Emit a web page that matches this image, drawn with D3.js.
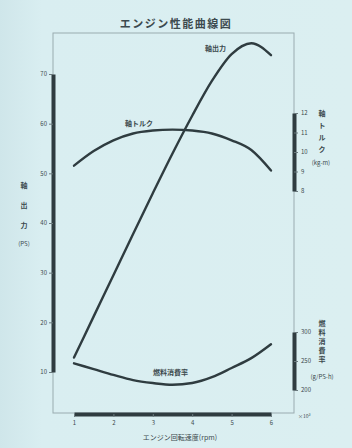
<!DOCTYPE html>
<html>
<head>
<meta charset="utf-8">
<script src="https://cdn.jsdelivr.net/npm/d3@7"></script>
<style>
  html, body { margin: 0; padding: 0; }
  body { width: 352px; height: 448px; overflow: hidden; background: #d8edf0; }
  svg text { font-family: "Noto Sans CJK JP", "Noto Sans", sans-serif; fill: #3c4a4e; }
</style>
</head>
<body>
<div id="chart"></div>
<script>
// engine speed (x1000 rpm)
const rpm = [1, 1.5, 2, 2.5, 3, 3.5, 4, 4.5, 5, 5.5, 6];
// shaft power (PS)
const power = [12.9, 21.2, 29.5, 37.8, 46.0, 54.0, 61.6, 68.6, 74.0, 76.2, 73.8];
// shaft torque (kg-m)
const torque = [9.3, 10.05, 10.6, 10.95, 11.1, 11.15, 11.1, 10.95, 10.6, 10.1, 9.05];
// fuel consumption rate (g/PS-h)
const fuel = [246, 236, 226, 217, 212, 209, 212, 222, 238, 255, 279];

const xTicks = [1, 2, 3, 4, 5, 6];
const powerTicks = [10, 20, 30, 40, 50, 60, 70];
const torqueTicks = [8, 9, 10, 11, 12];
const fuelTicks = [200, 250, 300];

const W = 352, H = 448;
const ink = "#2f3c40";

const svg = d3.select("#chart").append("svg")
    .attr("width", W)
    .attr("height", H);

// background wash
const grad = svg.append("defs").append("linearGradient")
    .attr("id", "bg").attr("x1", 0).attr("x2", 1).attr("y1", 0).attr("y2", 0);
grad.append("stop").attr("offset", "0%").attr("stop-color", "#cfe6ea");
grad.append("stop").attr("offset", "12%").attr("stop-color", "#d9eef1");
grad.append("stop").attr("offset", "100%").attr("stop-color", "#dbeff1");
svg.append("rect").attr("width", W).attr("height", H).attr("fill", "url(#bg)");

// scales
const x = d3.scaleLinear().domain([1, 6]).range([74, 271]);
const yP = d3.scaleLinear().domain([10, 70]).range([372, 74]);
const yT = d3.scaleLinear().domain([8, 12]).range([191, 113]);
const yF = d3.scaleLinear().domain([200, 300]).range([390, 332]);

// frame
svg.append("rect")
    .attr("x", 53).attr("y", 33)
    .attr("width", 241).attr("height", 380)
    .attr("fill", "none")
    .attr("stroke", "#9aabb0")
    .attr("stroke-width", 1);

// title
svg.append("text")
    .attr("x", 176).attr("y", 28)
    .attr("text-anchor", "middle")
    .style("font-size", "11px")
    .style("font-weight", "bold")
    .style("letter-spacing", "1.5px")
    .text("エンジン性能曲線図");

function styleAxis(g) {
    g.select(".domain").attr("stroke", ink).attr("stroke-width", 4);
    g.selectAll(".tick line").attr("stroke", "#6b7a7e");
    g.selectAll(".tick text").style("font-size", "6px").attr("fill", "#4a585c");
}

const fmt = d3.format("d");

// left axis: power
svg.append("g")
    .attr("transform", "translate(53,0)")
    .call(d3.axisLeft(yP).tickValues(powerTicks).tickFormat(fmt).tickSize(4).tickSizeOuter(0).tickPadding(2))
    .call(styleAxis);

// right axis: torque
svg.append("g")
    .attr("transform", "translate(294,0)")
    .call(d3.axisRight(yT).tickValues(torqueTicks).tickFormat(fmt).tickSize(4).tickSizeOuter(0).tickPadding(3))
    .call(styleAxis);

// right axis: fuel
svg.append("g")
    .attr("transform", "translate(294,0)")
    .call(d3.axisRight(yF).tickValues(fuelTicks).tickFormat(fmt).tickSize(4).tickSizeOuter(0).tickPadding(3))
    .call(styleAxis);

// bottom axis: rpm
svg.append("g")
    .attr("transform", "translate(0,414)")
    .call(d3.axisBottom(x).tickValues(xTicks).tickFormat(fmt).tickSize(3).tickSizeOuter(0).tickPadding(4))
    .call(styleAxis);

svg.append("text")
    .attr("x", 298).attr("y", 418)
    .style("font-size", "5px")
    .text("×10³");

// curves
const line = yScale => d3.line()
    .x((d, i) => x(rpm[i]))
    .y(d => yScale(d))
    .curve(d3.curveMonotoneX);

[[power, yP], [torque, yT], [fuel, yF]].forEach(([vals, ys]) => {
    svg.append("path")
        .attr("d", line(ys)(vals))
        .attr("fill", "none")
        .attr("stroke", ink)
        .attr("stroke-width", 2.4)
        .attr("stroke-linecap", "round");
});

// curve labels
const lbl = (t, px, py) => svg.append("text")
    .attr("x", px).attr("y", py)
    .style("font-size", "7px")
    .style("font-weight", "bold")
    .text(t);
lbl("軸出力", 205, 51);
lbl("軸トルク", 125, 126);
lbl("燃料消費率", 153, 375);

// vertical axis titles
function vTitle(chars, px, py, step) {
    chars.forEach((c, i) => {
        svg.append("text")
            .attr("x", px).attr("y", py + i * step)
            .attr("text-anchor", "middle")
            .style("font-size", "7px")
            .style("font-weight", "bold")
            .text(c);
    });
}
vTitle(["軸", "出", "力"], 24, 188, 20);
svg.append("text").attr("x", 24).attr("y", 246).attr("text-anchor", "middle")
    .style("font-size", "6px").text("(PS)");

vTitle(["軸", "ト", "ル", "ク"], 322, 116, 12);
svg.append("text").attr("x", 321).attr("y", 165).attr("text-anchor", "middle")
    .style("font-size", "6px").text("(kg-m)");

vTitle(["燃", "料", "消", "費", "率"], 322, 326, 9);
svg.append("text").attr("x", 322).attr("y", 379).attr("text-anchor", "middle")
    .style("font-size", "6px").text("(g/PS-h)");

// x axis title
svg.append("text")
    .attr("x", 180).attr("y", 440)
    .attr("text-anchor", "middle")
    .style("font-size", "7px")
    .text("エンジン回転速度(rpm)");
</script>
</body>
</html>
